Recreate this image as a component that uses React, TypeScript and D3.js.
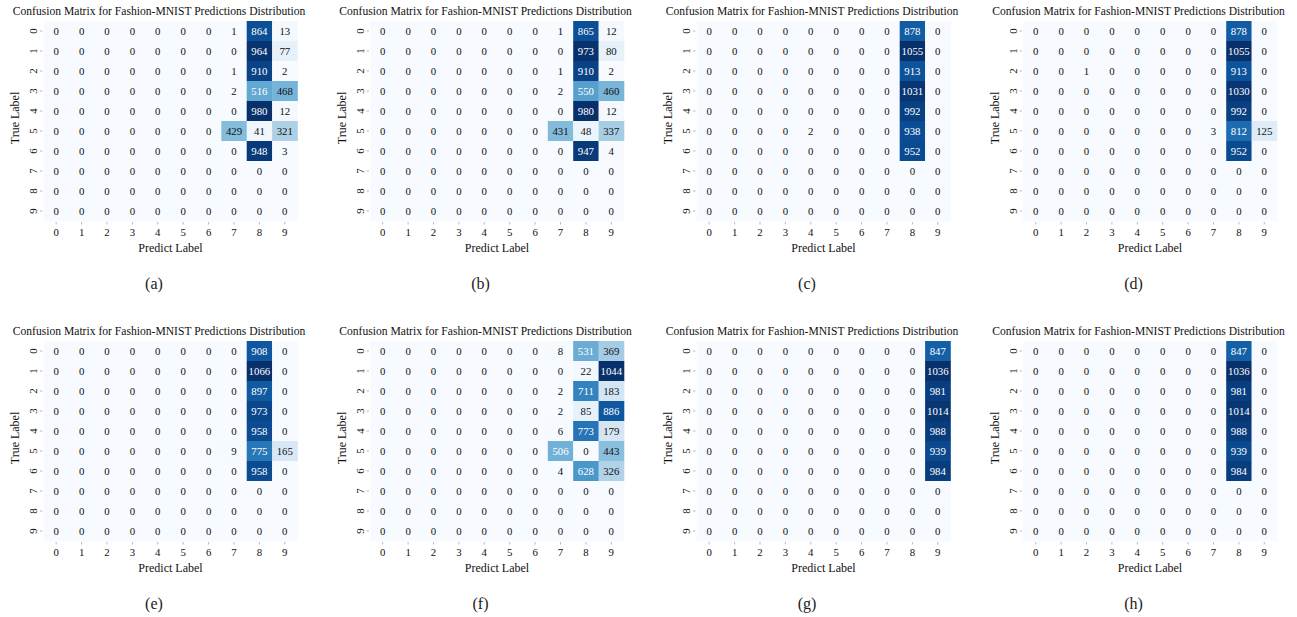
import React from "react";
import * as d3 from "d3";

const labels = ["0", "1", "2", "3", "4", "5", "6", "7", "8", "9"];
const panelTags = ["(a)", "(b)", "(c)", "(d)", "(e)", "(f)", "(g)", "(h)"];
const title = "Confusion Matrix for Fashion-MNIST Predictions Distribution";

const zeroRow = [0, 0, 0, 0, 0, 0, 0, 0, 0, 0];

const matrixA = [
  [0, 0, 0, 0, 0, 0, 0, 1, 864, 13],
  [0, 0, 0, 0, 0, 0, 0, 0, 964, 77],
  [0, 0, 0, 0, 0, 0, 0, 1, 910, 2],
  [0, 0, 0, 0, 0, 0, 0, 2, 516, 468],
  [0, 0, 0, 0, 0, 0, 0, 0, 980, 12],
  [0, 0, 0, 0, 0, 0, 0, 429, 41, 321],
  [0, 0, 0, 0, 0, 0, 0, 0, 948, 3],
  zeroRow, zeroRow, zeroRow,
];
const matrixB = [
  [0, 0, 0, 0, 0, 0, 0, 1, 865, 12],
  [0, 0, 0, 0, 0, 0, 0, 0, 973, 80],
  [0, 0, 0, 0, 0, 0, 0, 1, 910, 2],
  [0, 0, 0, 0, 0, 0, 0, 2, 550, 460],
  [0, 0, 0, 0, 0, 0, 0, 0, 980, 12],
  [0, 0, 0, 0, 0, 0, 0, 431, 48, 337],
  [0, 0, 0, 0, 0, 0, 0, 0, 947, 4],
  zeroRow, zeroRow, zeroRow,
];
const matrixC = [
  [0, 0, 0, 0, 0, 0, 0, 0, 878, 0],
  [0, 0, 0, 0, 0, 0, 0, 0, 1055, 0],
  [0, 0, 0, 0, 0, 0, 0, 0, 913, 0],
  [0, 0, 0, 0, 0, 0, 0, 0, 1031, 0],
  [0, 0, 0, 0, 0, 0, 0, 0, 992, 0],
  [0, 0, 0, 0, 2, 0, 0, 0, 938, 0],
  [0, 0, 0, 0, 0, 0, 0, 0, 952, 0],
  zeroRow, zeroRow, zeroRow,
];
const matrixD = [
  [0, 0, 0, 0, 0, 0, 0, 0, 878, 0],
  [0, 0, 0, 0, 0, 0, 0, 0, 1055, 0],
  [0, 0, 1, 0, 0, 0, 0, 0, 913, 0],
  [0, 0, 0, 0, 0, 0, 0, 0, 1030, 0],
  [0, 0, 0, 0, 0, 0, 0, 0, 992, 0],
  [0, 0, 0, 0, 0, 0, 0, 3, 812, 125],
  [0, 0, 0, 0, 0, 0, 0, 0, 952, 0],
  zeroRow, zeroRow, zeroRow,
];
const matrixE = [
  [0, 0, 0, 0, 0, 0, 0, 0, 908, 0],
  [0, 0, 0, 0, 0, 0, 0, 0, 1066, 0],
  [0, 0, 0, 0, 0, 0, 0, 0, 897, 0],
  [0, 0, 0, 0, 0, 0, 0, 0, 973, 0],
  [0, 0, 0, 0, 0, 0, 0, 0, 958, 0],
  [0, 0, 0, 0, 0, 0, 0, 9, 775, 165],
  [0, 0, 0, 0, 0, 0, 0, 0, 958, 0],
  zeroRow, zeroRow, zeroRow,
];
const matrixF = [
  [0, 0, 0, 0, 0, 0, 0, 8, 531, 369],
  [0, 0, 0, 0, 0, 0, 0, 0, 22, 1044],
  [0, 0, 0, 0, 0, 0, 0, 2, 711, 183],
  [0, 0, 0, 0, 0, 0, 0, 2, 85, 886],
  [0, 0, 0, 0, 0, 0, 0, 6, 773, 179],
  [0, 0, 0, 0, 0, 0, 0, 506, 0, 443],
  [0, 0, 0, 0, 0, 0, 0, 4, 628, 326],
  zeroRow, zeroRow, zeroRow,
];
const matrixG = [
  [0, 0, 0, 0, 0, 0, 0, 0, 0, 847],
  [0, 0, 0, 0, 0, 0, 0, 0, 0, 1036],
  [0, 0, 0, 0, 0, 0, 0, 0, 0, 981],
  [0, 0, 0, 0, 0, 0, 0, 0, 0, 1014],
  [0, 0, 0, 0, 0, 0, 0, 0, 0, 988],
  [0, 0, 0, 0, 0, 0, 0, 0, 0, 939],
  [0, 0, 0, 0, 0, 0, 0, 0, 0, 984],
  zeroRow, zeroRow, zeroRow,
];
const matrixH = [
  [0, 0, 0, 0, 0, 0, 0, 0, 847, 0],
  [0, 0, 0, 0, 0, 0, 0, 0, 1036, 0],
  [0, 0, 0, 0, 0, 0, 0, 0, 981, 0],
  [0, 0, 0, 0, 0, 0, 0, 0, 1014, 0],
  [0, 0, 0, 0, 0, 0, 0, 0, 988, 0],
  [0, 0, 0, 0, 0, 0, 0, 0, 939, 0],
  [0, 0, 0, 0, 0, 0, 0, 0, 984, 0],
  zeroRow, zeroRow, zeroRow,
];

const matrices = [matrixA, matrixB, matrixC, matrixD, matrixE, matrixF, matrixG, matrixH];

const W = 1297;
const H = 617;
const panelW = 326.5;
const panelH = 320;
const mapLeft = 43.5;
const mapTop = 21;
const mapW = 254;
const mapH = 200;
const font = "'Liberation Serif', 'Times New Roman', serif";

const x = d3.scaleBand<string>().domain(labels).range([mapLeft, mapLeft + mapW]);
const y = d3.scaleBand<string>().domain(labels).range([mapTop, mapTop + mapH]);

function Panel({ data, tag, idx }: { data: number[][]; tag: string; idx: number }) {
  const col = idx % 4;
  const row = Math.floor(idx / 4);
  const max = d3.max(data.flat()) || 1;
  const color = d3.scaleSequential(d3.interpolateBlues).domain([0, max]);

  return (
    <g transform={`translate(${col * panelW},${row * panelH})`}>
      <text x={159} y={15} textAnchor="middle" fontSize={11.6} fontFamily={font} fill="#111">
        {title}
      </text>
      {data.map((r, i) =>
        r.map((v, j) => (
          <rect
            key={`c${i}-${j}`}
            x={x(labels[j])}
            y={y(labels[i])}
            width={x.bandwidth() + 0.3}
            height={y.bandwidth() + 0.3}
            fill={color(v)}
          />
        ))
      )}
      {data.map((r, i) =>
        r.map((v, j) => (
          <text
            key={`t${i}-${j}`}
            x={(x(labels[j]) || 0) + x.bandwidth() / 2}
            y={(y(labels[i]) || 0) + y.bandwidth() / 2}
            dy="0.35em"
            textAnchor="middle"
            fontSize={10.8}
            fontFamily={font}
            fill={v / max > 0.48 ? "#fff" : "#111"}
          >
            {v}
          </text>
        ))
      )}
      {labels.map((l) => {
        const cy = (y(l) || 0) + y.bandwidth() / 2;
        return (
          <g key={`y${l}`}>
            <line x1={mapLeft - 3.5} x2={mapLeft - 1} y1={cy} y2={cy} stroke="#aaa" strokeWidth={0.8} />
            <text
              transform={`translate(${mapLeft - 10},${cy}) rotate(-90)`}
              textAnchor="middle"
              dy="0.35em"
              fontSize={10.8}
              fontFamily={font}
              fill="#111"
            >
              {l}
            </text>
          </g>
        );
      })}
      {labels.map((l) => {
        const cx = (x(l) || 0) + x.bandwidth() / 2;
        return (
          <g key={`x${l}`}>
            <line x1={cx} x2={cx} y1={mapTop + mapH + 1} y2={mapTop + mapH + 3.5} stroke="#aaa" strokeWidth={0.8} />
            <text x={cx} y={mapTop + mapH + 11} dy="0.35em" textAnchor="middle" fontSize={10.8} fontFamily={font} fill="#111">
              {l}
            </text>
          </g>
        );
      })}
      <text x={mapLeft + mapW / 2} y={mapTop + mapH + 27} dy="0.35em" textAnchor="middle" fontSize={12} fontFamily={font} fill="#111">
        Predict Label
      </text>
      <text
        transform={`translate(15,${mapTop + mapH / 2 - 3}) rotate(-90)`}
        textAnchor="middle"
        dy="0.35em"
        fontSize={12}
        fontFamily={font}
        fill="#111"
      >
        True Label
      </text>
      <text x={154} y={283} dy="0.35em" textAnchor="middle" fontSize={16} fontFamily={font} fill="#222">
        {tag}
      </text>
    </g>
  );
}

export default function App() {
  return (
    <svg
      width={W}
      height={H}
      style={{ position: "absolute", left: 0, top: 0, display: "block", background: "#fff" }}
    >
      {matrices.map((m, i) => (
        <Panel key={i} data={m} tag={panelTags[i]} idx={i} />
      ))}
    </svg>
  );
}
